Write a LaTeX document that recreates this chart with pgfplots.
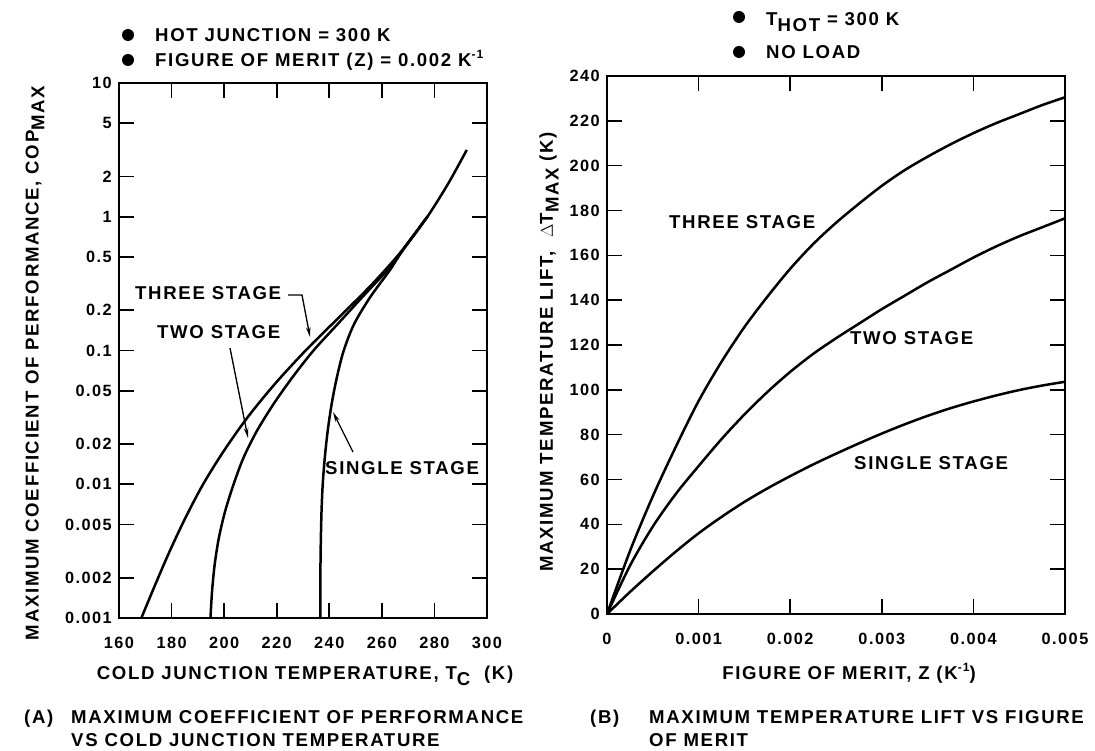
\documentclass[border=0pt]{standalone}
\usepackage{pgfplots}
\pgfplotsset{compat=1.18}
\usepackage{fontspec}
\setmainfont{Liberation Sans}[LetterSpace=9]
\usetikzlibrary{arrows.meta}
\newcommand{\lbl}{\fontsize{18.6}{22}\selectfont\bfseries}
\newcommand{\tkl}{\fontsize{16.3}{19}\selectfont\bfseries}
\newcommand{\sub}[1]{\raisebox{-0.6ex}{#1}}
\newcommand{\sups}[1]{\raisebox{0.85ex}{\fontsize{12}{12}\selectfont\bfseries #1}}
\pgfplotsset{
  myax/.style={
    scale only axis, anchor=south west,
    line width=2pt,
    tick align=inside, major tick length=15pt,
    every tick/.style={line width=1.6pt,black},
    ticklabel style={font=\tkl},
    yticklabel style={xshift=-3pt},
    xticklabel style={yshift=-15pt},
  },
  crv/.style={line width=2.5pt, black, no marks, smooth, tension=0.5},
}
\begin{document}
\begin{tikzpicture}
\path[use as bounding box] (0pt,0pt) rectangle (1095pt,751pt);

% ---------------- Panel A ----------------
\begin{axis}[myax, at={(119pt,133pt)}, width=368pt, height=535pt,
  xmin=160, xmax=300, ymode=log, ymin=0.001, ymax=10,
  xtick={160,180,200,220,240,260,280,300},
  xticklabels={160,180,200,220,240,260,280,300},
  ytick={0.001,0.002,0.005,0.01,0.02,0.05,0.1,0.2,0.5,1,2,5,10},
  yticklabels={0.001,0.002,0.005,0.01,0.02,0.05,0.1,0.2,0.5,1,2,5,10},
  yminorticks=false, xminorticks=false]
% three stage
\addplot[crv] coordinates {(168.5,0.001) (173.8,0.001778) (179.3,0.003162) (185.3,0.005623) (192.0,0.01) (199.9,0.01778) (208.9,0.03162) (219.3,0.05623) (231.0,0.1) (243.8,0.1778) (256.5,0.3162) (267.8,0.5623) (277.3,1.0) (285.3,1.778) (292.3,3.162)};
% two stage
\addplot[crv] coordinates {(194.8,0.001) (195.4,0.001585) (196.4,0.002512) (198.0,0.003981) (200.4,0.00631) (203.6,0.01) (207.4,0.01585) (212.5,0.02512) (218.8,0.03981) (226.0,0.0631) (234.0,0.1) (243.3,0.1585) (252.6,0.2512) (262.0,0.3981) (267.8,0.5623) (277.3,1.0)};
% single stage
\addplot[crv] coordinates {(236.6,0.001) (236.6,0.001585) (236.65,0.002512) (236.8,0.003981) (237.05,0.00631) (237.5,0.01) (238.3,0.01585) (239.4,0.02512) (240.9,0.03981) (242.9,0.0631) (245.5,0.1) (249.5,0.1585) (255.6,0.2512) (263.0,0.3981) (268.0,0.5623) (277.3,1.0)};
\end{axis}

% ---------------- Panel B ----------------
\begin{axis}[myax, at={(607pt,137pt)}, width=458pt, height=538pt,
  xmin=0, xmax=0.005, ymin=0, ymax=240,
  xtick={0,0.001,0.002,0.003,0.004,0.005},
  xticklabels={0,0.001,0.002,0.003,0.004,0.005},
  scaled x ticks=false,
  ytick={0,20,40,60,80,100,120,140,160,180,200,220,240},
  yticklabels={0,20,40,60,80,100,120,140,160,180,200,220,240}]
% three stage
\addplot[crv] coordinates {(0,0) (0.00025,28) (0.0005,52.5) (0.00075,74.5) (0.001,95) (0.00125,112.5) (0.0015,128) (0.00175,141.5) (0.002,154) (0.00225,165) (0.0025,174.5) (0.00275,183) (0.003,191) (0.00325,198) (0.0035,204) (0.00375,209.5) (0.004,214.5) (0.00425,219) (0.0045,223) (0.00475,227) (0.005,230.5)};
% two stage
\addplot[crv] coordinates {(0,0) (0.00025,21.5) (0.0005,39) (0.00075,53.5) (0.001,66) (0.00125,78) (0.0015,89) (0.00175,99) (0.002,108) (0.00225,116) (0.0025,123) (0.00275,129.5) (0.003,136) (0.00325,142) (0.0035,148) (0.00375,153.5) (0.004,159) (0.00425,164) (0.0045,168.5) (0.00475,172.5) (0.005,176.5)};
% single stage
\addplot[crv] coordinates {(0,0) (0.00025,9.8) (0.0005,19) (0.00075,27.8) (0.001,36) (0.00125,43.3) (0.0015,50) (0.00175,56) (0.002,61.5) (0.00225,66.7) (0.0025,71.5) (0.00275,76.1) (0.003,80.5) (0.00325,84.6) (0.0035,88.4) (0.00375,91.8) (0.004,94.8) (0.00425,97.5) (0.0045,99.9) (0.00475,101.9) (0.005,103.6)};
\end{axis}

% ---------------- Headers ----------------
\fill (128pt,716pt) circle (6pt);
\node[anchor=base west, inner sep=0pt, font=\lbl] at (155pt,709.3pt) {HOT JUNCTION = 300 K};
\fill (128pt,691pt) circle (6pt);
\node[anchor=base west, inner sep=0pt, font=\lbl] at (155pt,684.3pt) {FIGURE OF MERIT (Z) = 0.002 K\sups{-1}};

\fill (739pt,734pt) circle (6pt);
\node[anchor=base west, inner sep=0pt, font=\lbl] at (766pt,725.5pt) {T\sub{HOT} = 300 K};
\fill (739pt,699pt) circle (6pt);
\node[anchor=base west, inner sep=0pt, font=\lbl] at (766pt,692.5pt) {NO LOAD};

% ---------------- Axis labels ----------------
\node[rotate=90, font=\lbl, inner sep=0pt] at (35pt,388pt) {MAXIMUM COEFFICIENT OF PERFORMANCE, COP\sub{MAX}};
\node[rotate=90, font=\lbl, inner sep=0pt] at (549pt,399pt) {MAXIMUM TEMPERATURE LIFT,\ \ $\Delta$T\sub{MAX} (K)};
\node[anchor=base, font=\lbl, inner sep=0pt] at (305pt,71.3pt) {COLD JUNCTION TEMPERATURE, T\sub{C}\ \ (K)};
\node[anchor=base, font=\lbl, inner sep=0pt] at (849pt,71.3pt) {FIGURE OF MERIT, Z (K\sups{-1})};

% ---------------- Captions ----------------
\node[anchor=base west, font=\lbl, inner sep=0pt] at (24pt,27.3pt) {(A)};
\node[anchor=base west, font=\lbl, inner sep=0pt] at (71pt,27.3pt) {MAXIMUM COEFFICIENT OF PERFORMANCE};
\node[anchor=base west, font=\lbl, inner sep=0pt] at (71pt,4.3pt) {VS COLD JUNCTION TEMPERATURE};
\node[anchor=base west, font=\lbl, inner sep=0pt] at (590pt,27.3pt) {(B)};
\node[anchor=base west, font=\lbl, inner sep=0pt] at (649pt,27.3pt) {MAXIMUM TEMPERATURE LIFT VS FIGURE};
\node[anchor=base west, font=\lbl, inner sep=0pt] at (649pt,4.3pt) {OF MERIT};

% ---------------- Curve labels, panel A ----------------
\node[anchor=base west, font=\lbl, inner sep=0pt] at (135pt,451.3pt) {THREE STAGE};
\draw[line width=1.3pt, -{Stealth[length=10pt,width=4.5pt]}] (288pt,456pt) -- (302pt,456pt) -- (310pt,414pt);
\node[anchor=base west, font=\lbl, inner sep=0pt] at (157pt,412.3pt) {TWO STAGE};
\draw[line width=1.3pt, -{Stealth[length=10pt,width=4.5pt]}] (230pt,403pt) -- (248pt,313pt);
\node[anchor=base west, font=\lbl, inner sep=0pt] at (325pt,276.3pt) {SINGLE STAGE};
\draw[line width=1.3pt, -{Stealth[length=10pt,width=4.5pt]}] (353pt,299pt) -- (333pt,339pt);

% ---------------- Curve labels, panel B ----------------
\node[anchor=base west, font=\lbl, inner sep=0pt] at (669pt,522.3pt) {THREE STAGE};
\node[anchor=base west, font=\lbl, inner sep=0pt] at (850pt,406.3pt) {TWO STAGE};
\node[anchor=base west, font=\lbl, inner sep=0pt] at (854pt,281.3pt) {SINGLE STAGE};
\end{tikzpicture}
\end{document}
